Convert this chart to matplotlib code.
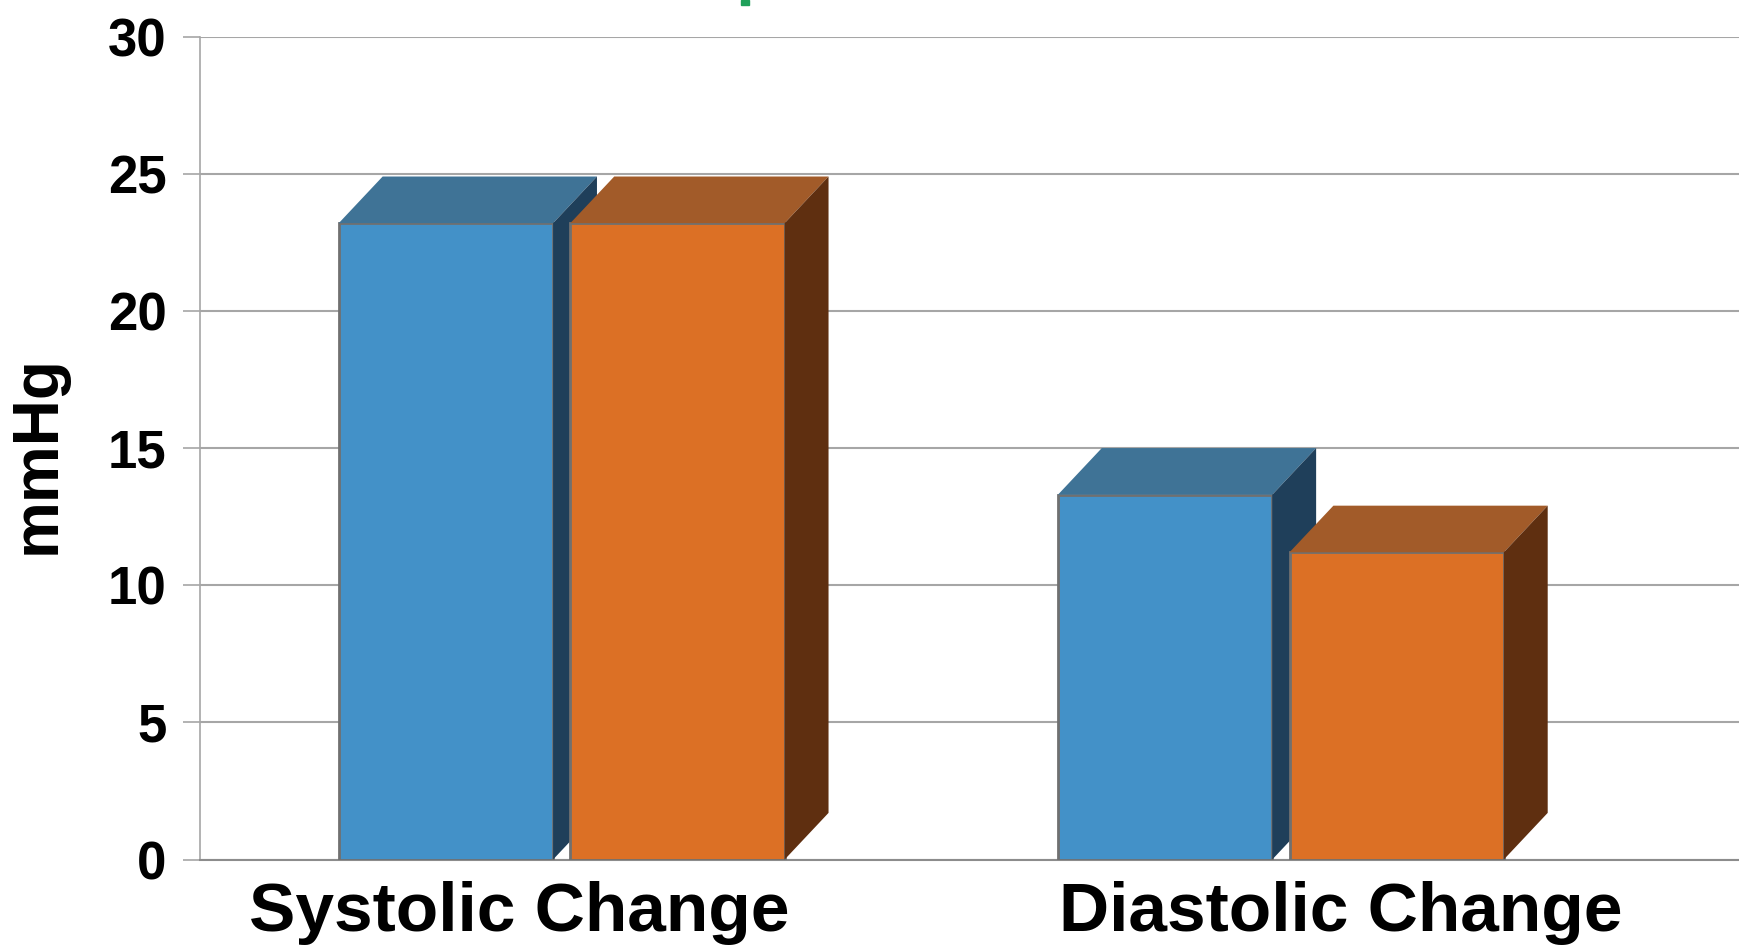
import matplotlib.pyplot as plt
from matplotlib.patches import Polygon, Rectangle
from matplotlib.transforms import blended_transform_factory

categories = ["Systolic Change", "Diastolic Change"]
series_a = [23.2, 13.3]
series_b = [23.2, 11.2]
y_ticks = [0, 5, 10, 15, 20, 25, 30]

front = ["#4391C8", "#DC7025"]
top = ["#3F7396", "#A25B29"]
side = ["#1F3F5A", "#5F2F10"]

plt.rcParams["font.family"] = ["Liberation Sans", "DejaVu Sans"]
plt.rcParams["font.weight"] = "bold"

fig = plt.figure(figsize=(17.39, 9.51), dpi=100)
ax = fig.add_axes([0.115, 0.0962, 0.885, 0.8653])

width = 0.298
gap = 0.024
depth_x = 0.061
depth_y = 1.7


def draw_box(x0, h, k):
    # front face from the bar, then top and side faces behind it
    ax.bar(x0, h, width=width, align="edge", color=front[k],
           edgecolor="#707070", linewidth=2, zorder=3 + k)
    x1 = x0 + width
    ax.add_patch(Polygon([(x0, h), (x1, h), (x1 + depth_x, h + depth_y),
                          (x0 + depth_x, h + depth_y)], closed=True,
                         facecolor=top[k], edgecolor="none", zorder=3 + k))
    ax.add_patch(Polygon([(x1, 0), (x1 + depth_x, depth_y),
                          (x1 + depth_x, h + depth_y), (x1, h)], closed=True,
                         facecolor=side[k], edgecolor="none", zorder=3 + k))


for i in range(len(categories)):
    start = i + 0.193
    draw_box(start, series_a[i], 0)
    draw_box(start + width + gap, series_b[i], 1)

ax.set_xlim(0, 2.14)
ax.set_ylim(0, 30)
ax.set_yticks(y_ticks)
ax.set_yticklabels([str(t) for t in y_ticks], fontsize=38, fontweight="bold")
ax.tick_params(axis="y", length=12, width=1.2, color="#A6A6A6", pad=12)
ax.set_xticks([])
ax.yaxis.grid(True, color="#A6A6A6", linewidth=1.5, zorder=0)
ax.set_axisbelow(True)
for s in ["top", "right"]:
    ax.spines[s].set_visible(False)
ax.spines["left"].set_color("#A6A6A6")
ax.spines["left"].set_linewidth(1.2)
ax.spines["bottom"].set_color("#8C8C8C")
ax.spines["bottom"].set_linewidth(1.5)

# category labels under each group
trans = blended_transform_factory(ax.transData, ax.transAxes)
label_x = [0.444, 1.586]
for x, name in zip(label_x, categories):
    ax.text(x, -0.065, name, transform=trans, ha="center", va="center",
            fontsize=50, fontweight="bold", clip_on=False)

fig.text(38 / 1739, 1 - 455 / 951, "mmHg", rotation=90, ha="center",
         va="center", fontsize=46, fontweight="bold")

# small green mark at the top edge
fig.patches.append(Rectangle((741 / 1739, 1 - 5 / 951), 8 / 1739, 5 / 951,
                             transform=fig.transFigure, color="#1FA05A"))

fig.savefig("out.png", dpi=100)
